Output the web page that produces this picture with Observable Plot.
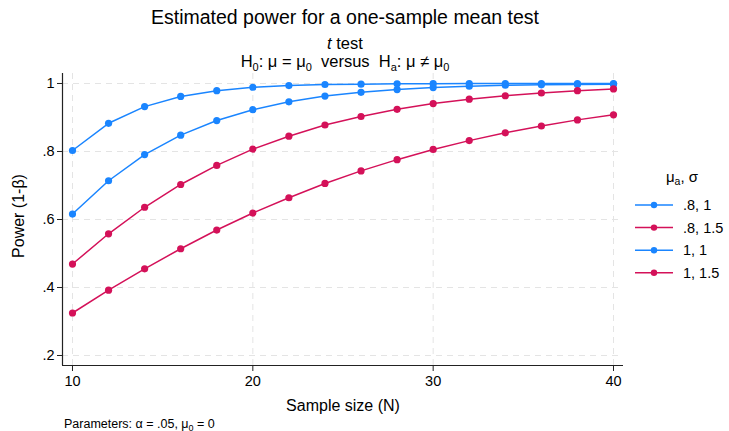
<!DOCTYPE html>
<html><head><meta charset="utf-8">
<script src="https://cdn.jsdelivr.net/npm/d3@7"></script>
<script src="https://cdn.jsdelivr.net/npm/@observablehq/plot@0.6"></script>
<style>
body{margin:0;background:#fff}
svg, svg text{font-family:"Liberation Sans",Arial,Helvetica,sans-serif}
</style>
</head><body><div id="chart"></div>
<script>
const sampleSizes = [10,12,14,16,18,20,22,24,26,28,30,32,34,36,38,40];
const power_08_1   = [.616,.714,.791,.848,.891,.923,.946,.963,.974,.982,.988,.992,.995,.996,.997,.998];
const power_08_15  = [.325,.392,.455,.514,.569,.619,.664,.706,.743,.776,.806,.832,.855,.875,.893,.908];
const power_1_1    = [.803,.883,.932,.962,.979,.989,.994,.997,.998,.999,.9995,.9998,.9999,1,1,1];
const power_1_15   = [.469,.558,.636,.703,.759,.807,.845,.878,.903,.924,.941,.954,.964,.972,.979,.984];
const seriesLabels = [".8, 1", ".8, 1.5", "1, 1", "1, 1.5"];
const seriesValues = [power_08_1, power_08_15, power_1_1, power_1_15];
const seriesColors = ["#1a85ff", "#d41159", "#1a85ff", "#d41159"];
const xTicks = [10, 20, 30, 40];
const yTicks = [.2, .4, .6, .8, 1];

const data = [];
seriesLabels.forEach((s, i) => sampleSizes.forEach((n, j) => data.push({series: s, n, power: seriesValues[i][j]})));

const xDomain = [9.446, 40.554];
const yDomain = [0.1706, 1.0294];
const fmtY = d => d === 1 ? "1" : d3.format(".1f")(d).replace(/^0/, "");

const plot = Plot.plot({
  width: 729, height: 431,
  marginLeft: 62, marginRight: 106, marginTop: 73, marginBottom: 66,
  style: {fontFamily: '"Liberation Sans",Arial,sans-serif', background: "#fff"},
  x: {domain: xDomain},
  y: {domain: yDomain},
  color: {domain: seriesLabels, range: seriesColors},
  marks: [
    Plot.ruleX(xTicks, {stroke: "#e4e4e4", strokeWidth: 1, strokeDasharray: "6,5"}),
    Plot.ruleY(yTicks, {stroke: "#e4e4e4", strokeWidth: 1, strokeDasharray: "6,5"}),
    Plot.line(data, {x: "n", y: "power", z: "series", stroke: "series", strokeWidth: 1.5}),
    Plot.dot(data, {x: "n", y: "power", fill: "series", r: 3.6, stroke: "none"}),
    Plot.ruleX([xDomain[0]], {stroke: "#222", strokeWidth: 1.2}),
    Plot.ruleY([yDomain[0]], {stroke: "#222", strokeWidth: 1.2}),
    Plot.axisX({ticks: xTicks, tickSize: 6, tickPadding: 4, fontSize: 14.5, label: null, stroke: "#222", color: "#000"}),
    Plot.axisY({ticks: yTicks, tickSize: 5, tickPadding: 3, fontSize: 14.5, label: null, tickFormat: fmtY, stroke: "#222", color: "#000"})
  ]
});

const svg = d3.select(plot);
const T = svg.append("g").attr("fill", "#000").attr("font-family", '"Liberation Sans",Arial,sans-serif');
T.append("text").attr("x", 345).attr("y", 24).attr("text-anchor", "middle").attr("font-size", 19.5)
  .text("Estimated power for a one-sample mean test");
const sub1 = T.append("text").attr("x", 345).attr("y", 48.5).attr("text-anchor", "middle").attr("font-size", 16.5);
sub1.append("tspan").attr("font-style", "italic").text("t");
sub1.append("tspan").text(" test");
const sub2 = T.append("text").attr("x", 345).attr("y", 67).attr("text-anchor", "middle").attr("font-size", 16.5);
sub2.append("tspan").text("H");
sub2.append("tspan").attr("font-size", 11).attr("dy", 3.5).text("0");
sub2.append("tspan").attr("dy", -3.5).text(": μ = μ");
sub2.append("tspan").attr("font-size", 11).attr("dy", 3.5).text("0");
sub2.append("tspan").attr("dy", -3.5).text("\u00a0 versus \u00a0H");
sub2.append("tspan").attr("font-size", 11).attr("dy", 3.5).text("a");
sub2.append("tspan").attr("dy", -3.5).text(": μ ≠ μ");
sub2.append("tspan").attr("font-size", 11).attr("dy", 3.5).text("0");

T.append("text").attr("transform", "translate(24,216) rotate(-90)").attr("text-anchor", "middle").attr("font-size", 16)
  .text("Power (1-β)");
T.append("text").attr("x", 343).attr("y", 411).attr("text-anchor", "middle").attr("font-size", 16)
  .text("Sample size (N)");
const cap = T.append("text").attr("x", 64).attr("y", 428).attr("text-anchor", "start").attr("font-size", 12.5);
cap.append("tspan").text("Parameters: α = .05, μ");
cap.append("tspan").attr("font-size", 9).attr("dy", 2.5).text("0");
cap.append("tspan").attr("dy", -2.5).text(" = 0");

// legend
const L = svg.append("g").attr("font-family", '"Liberation Sans",Arial,sans-serif');
const lt = L.append("text").attr("x", 682).attr("y", 182).attr("text-anchor", "middle").attr("font-size", 15).attr("fill", "#000");
lt.append("tspan").text("μ");
lt.append("tspan").attr("font-size", 10.5).attr("dy", 3).text("a");
lt.append("tspan").attr("dy", -3).text(", σ");
seriesLabels.forEach((s, i) => {
  const y = 205 + i * 22.6;
  L.append("line").attr("x1", 635).attr("x2", 673).attr("y1", y).attr("y2", y).attr("stroke", seriesColors[i]).attr("stroke-width", 1.5);
  L.append("circle").attr("cx", 654).attr("cy", y).attr("r", 3.2).attr("fill", seriesColors[i]);
  L.append("text").attr("x", 683).attr("y", y + 5.2).attr("text-anchor", "start").attr("font-size", 14.5).attr("fill", "#000").text(s);
});

document.getElementById("chart").appendChild(plot);
</script>
</body></html>
